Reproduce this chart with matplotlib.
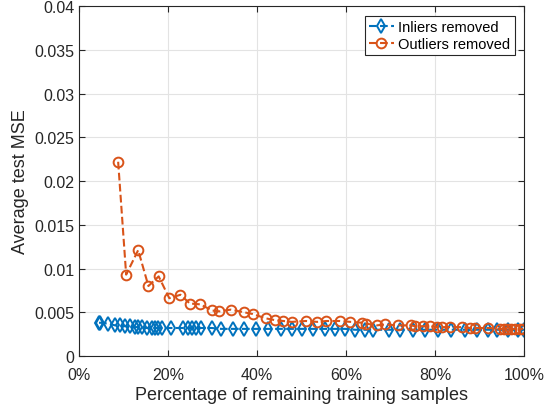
import matplotlib
matplotlib.use("Agg")
from matplotlib import pyplot as plt
from matplotlib.ticker import FuncFormatter

plt.rcParams['font.family'] = ['Liberation Sans', 'DejaVu Sans']

# Inliers removed (blue): % of remaining samples, average test MSE
inl_x = [4.5, 4.8, 6.6, 8.1, 9.2, 10.3, 11.5, 12.6, 13.3, 14.2, 15.2, 16.3, 17.1,
         17.8, 18.7, 20.7, 23.3, 24.6, 25.5, 26.3, 27.4, 29.8, 31.9, 34.7, 37.1,
         39.7, 42.5, 45.5, 47.8, 50.0, 52.6, 55.3, 57.5, 59.8, 62.0, 64.3, 66.1,
         69.7, 72.1, 75.1, 77.8, 80.7, 83.7, 86.7, 89.4, 92.0, 93.9, 96.5, 98.7, 100.0]
inl_y = [0.0038, 0.0038, 0.0037, 0.0035, 0.0035, 0.0034, 0.0034, 0.0033, 0.0033,
         0.0033, 0.0032, 0.0032, 0.0032, 0.0032, 0.0032, 0.0032, 0.0032, 0.0032,
         0.0032, 0.0032, 0.0032, 0.0032, 0.0031, 0.0031, 0.0031, 0.0031, 0.0031,
         0.0031, 0.0031, 0.0031, 0.0031, 0.0031, 0.0031, 0.0031, 0.0030, 0.0030,
         0.0030, 0.0030, 0.0030, 0.0030, 0.0030, 0.0030, 0.0030, 0.0030, 0.0030,
         0.0030, 0.0030, 0.0030, 0.0030, 0.0030]

# Outliers removed (orange)
out_x = [8.8, 10.6, 13.3, 15.6, 17.9, 20.3, 22.8, 24.9, 27.3, 29.9, 31.5, 34.1,
         37.1, 39.0, 42.0, 44.0, 45.9, 47.8, 51.0, 53.5, 55.6, 58.6, 61.0, 63.7,
         64.5, 66.9, 68.8, 71.6, 74.7, 75.5, 77.4, 78.9, 80.4, 81.5, 83.4, 86.1,
         87.9, 89.0, 92.0, 94.6, 95.4, 96.1, 97.1, 98.0, 99.1, 99.8]
out_y = [0.0222, 0.0093, 0.0121, 0.0080, 0.0091, 0.0066, 0.0070, 0.0060, 0.0059,
         0.0052, 0.0051, 0.0053, 0.0050, 0.0048, 0.0043, 0.0041, 0.0040, 0.0039,
         0.0040, 0.0039, 0.0040, 0.0040, 0.0039, 0.0038, 0.0037, 0.0035, 0.0036,
         0.0035, 0.0035, 0.0034, 0.0034, 0.0034, 0.0033, 0.0033, 0.0033, 0.0033,
         0.0032, 0.0032, 0.0032, 0.0031, 0.0031, 0.0031, 0.0031, 0.0031, 0.0031,
         0.0031]

blue = "#0072BD"
orange = "#D95319"
ink = "#262626"

fig = plt.figure(figsize=(5.47, 4.06), dpi=100)
ax = fig.add_axes([0.1444, 0.1207, 0.8136, 0.862])

ax.plot(inl_x, inl_y, "--d", color=blue, lw=1.5, ms=7, mfc="none", mew=1.4,
        label="Inliers removed")
ax.plot(out_x, out_y, "--o", color=orange, lw=1.5, ms=7, mfc="none", mew=1.4,
        label="Outliers removed")

ax.set_xlim(0, 100)
ax.set_ylim(0, 0.04)
ax.set_xticks(range(0, 101, 20))
ax.xaxis.set_major_formatter(FuncFormatter(lambda v, p: "%d%%" % v))
ax.set_yticks([0, 0.005, 0.01, 0.015, 0.02, 0.025, 0.03, 0.035, 0.04])
ax.set_yticklabels(["0", "0.005", "0.01", "0.015", "0.02", "0.025", "0.03", "0.035", "0.04"])
ax.tick_params(direction="in", top=True, right=True, labelsize=11.5, length=4,
               color=ink, labelcolor=ink)
ax.tick_params(axis="x", pad=8)
ax.grid(True, color="#e3e3e3", lw=0.8)
ax.set_axisbelow(True)
for s in ax.spines.values():
    s.set_color(ink)
    s.set_linewidth(0.8)

ax.set_xlabel("Percentage of remaining training samples", fontsize=13, color=ink, labelpad=2.5)
ax.set_ylabel("Average test MSE", fontsize=13, color=ink, labelpad=4)

leg = ax.legend(loc="upper right", fontsize=10.5, fancybox=False, framealpha=1,
                edgecolor=ink, borderpad=0.3, handlelength=1.7,
                handletextpad=0.3, labelspacing=0.2, borderaxespad=0.65)
leg.get_frame().set_linewidth(0.8)

fig.savefig("out.png", dpi=100)
